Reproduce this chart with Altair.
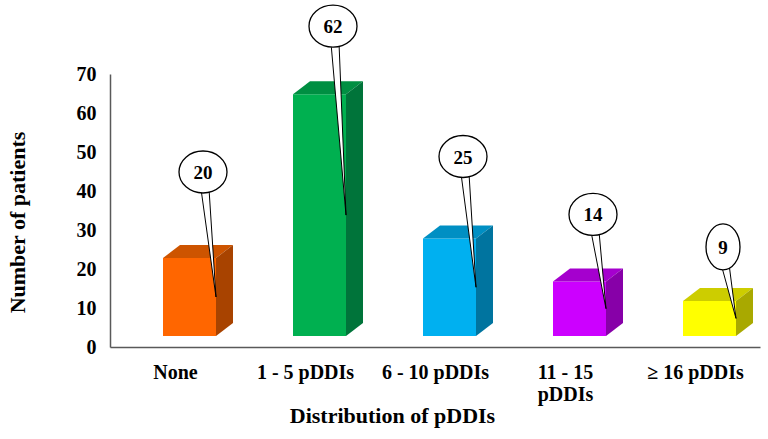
import altair as alt
import pandas as pd

# ---- data -------------------------------------------------------------
categories = ["None", "1 - 5 pDDIs", "6 - 10 pDDIs", "11 - 15 pDDIs", "\u2265 16 pDDIs"]
axis_labels = [["None"], ["1 - 5 pDDIs"], ["6 - 10 pDDIs"], ["11 - 15", "pDDIs"], ["\u2265 16 pDDIs"]]
patients = [20, 62, 25, 14, 9]

# ---- styling ----------------------------------------------------------
front_colors = ["#FF6600", "#00B050", "#00B0F0", "#CC00FF", "#FFFF00"]
top_colors = ["#CD5400", "#008F42", "#008FC3", "#A500CE", "#CDCD00"]
side_colors = ["#A84300", "#00743A", "#00749F", "#8700A8", "#A9A900"]
callout_rise = [86, 68, 82, 67, 54]  # px from bar top up to the bubble centre

FONT = "Liberation Serif"
W, H = 650, 273
Y_MAX = 70
UX = len(categories) / W   # data units per pixel, x
UY = Y_MAX / H             # data units per pixel, y

FACE_W = 53       # front face width (px)
FACE_SHIFT = 14.5 # front face centre, right of the band centre (px)
DEPTH_X = 17      # 3-D depth offset (px)
DEPTH_Y = 13
LIFT = 11         # front face floor above the axis line (px)
BUB_DX = -13      # bubble centre relative to the bar's front-right edge (px)
TAIL_HALF = 4     # half width of the callout tail at the bubble (px)
TAIL_DROP = 17    # tail base below the bubble centre (px)

rows = []
for i, (cat, val, rise) in enumerate(zip(categories, patients, callout_rise)):
    for edge in (0, 1):
        rows.append({"idx": i, "category": cat, "value": val, "rise": rise, "edge": edge})
df = pd.DataFrame(rows)

wide_bubble = "M -0.96 0 A 0.96 0.84 0 1 1 0.96 0 A 0.96 0.84 0 1 1 -0.96 0 Z"
narrow_bubble = "M -0.68 0 A 0.68 0.92 0 1 1 0.68 0 A 0.68 0.92 0 1 1 -0.68 0 Z"

base = (
    alt.Chart(df)
    .transform_calculate(
        x_l=f"datum.idx + {(FACE_SHIFT - FACE_W / 2) * UX}",
        x_r=f"datum.idx + {(FACE_SHIFT + FACE_W / 2) * UX}",
        y_b=f"{LIFT * UY} + datum.edge * {DEPTH_Y * UY}",
        y_t=f"datum.value + {LIFT * UY} + datum.edge * {DEPTH_Y * UY}",
    )
    .transform_calculate(
        x_side="datum.x_r + datum.edge * " + str(DEPTH_X * UX),
        x_top_l="datum.x_l + datum.edge * " + str(DEPTH_X * UX),
        x_top_r="datum.x_r + datum.edge * " + str(DEPTH_X * UX),
        bub_x=f"datum.x_r + {BUB_DX * UX}",
        bub_y=f"datum.value + {LIFT * UY} + datum.rise * {UY}",
        tip_y=f"datum.value / 2 + {LIFT * UY}",
        bub_shape=f"datum.value < 10 ? '{narrow_bubble}' : '{wide_bubble}'",
    )
    .transform_calculate(
        tail_y=f"datum.edge == 0 ? datum.bub_y - {TAIL_DROP * UY} : datum.tip_y",
        tail_l=f"datum.edge == 0 ? datum.bub_x + {(2 - TAIL_HALF) * UX} : datum.x_r",
        tail_r=f"datum.edge == 0 ? datum.bub_x + {(2 + TAIL_HALF) * UX} : datum.x_r",
    )
)

x_scale = alt.Scale(domain=[-0.5, len(categories) - 0.5], nice=False, zero=False)
y_scale = alt.Scale(domain=[0, Y_MAX], nice=False)

label_expr = str(axis_labels).replace('"', "'") + "[datum.value]"

x_axis = alt.Axis(
    values=list(range(len(categories))),
    labelExpr=label_expr,
    title="Distribution of pDDIs",
    ticks=False, tickSize=0, grid=False,
    domainColor="#595959", domainWidth=1.5,
    labelFont=FONT, labelFontSize=20, labelFontWeight="bold", labelColor="black",
    labelBaseline="alphabetic", labelPadding=31, labelLineHeight=22,
    labelFlush=False, labelOverlap=False, labelAlign="center",
    titleFont=FONT, titleFontSize=22, titleFontWeight="bold", titleColor="black",
    titleX=282, titleY=75, titleBaseline="alphabetic", titleAlign="center", titleAnchor="middle",
)
y_axis = alt.Axis(
    values=list(range(0, Y_MAX + 1, 10)),
    title="Number of patients",
    ticks=False, tickSize=0, grid=False,
    domainColor="#595959", domainWidth=1.5,
    labelFont=FONT, labelFontSize=20, labelFontWeight="bold", labelColor="black",
    labelPadding=14,
    titleFont=FONT, titleFontSize=22, titleFontWeight="bold", titleColor="black",
    titleAngle=-90, titleX=-86, titleY=148, titleBaseline="alphabetic", titleAlign="center",
)


def colour(rng):
    return alt.Color("category:N", scale=alt.Scale(domain=categories, range=rng), legend=None)


front = base.transform_filter("datum.edge == 0").mark_rect().encode(
    x=alt.X("x_l:Q", scale=x_scale, axis=x_axis),
    x2="x_r:Q",
    y=alt.Y("y_b:Q", scale=y_scale, axis=y_axis),
    y2="y_t:Q",
    color=colour(front_colors),
)

top = base.mark_area(orient="horizontal").encode(
    y=alt.Y("y_t:Q", scale=y_scale, axis=y_axis),
    x=alt.X("x_top_l:Q", scale=x_scale, axis=x_axis, stack=None),
    x2="x_top_r:Q",
    detail="category:N",
    color=colour(top_colors),
)

side = base.mark_area(orient="vertical").encode(
    x=alt.X("x_side:Q", scale=x_scale, axis=x_axis),
    y=alt.Y("y_b:Q", scale=y_scale, axis=y_axis, stack=None),
    y2="y_t:Q",
    detail="category:N",
    color=colour(side_colors),
)

tail = base.mark_area(orient="horizontal", fill="white", stroke="black", strokeWidth=1).encode(
    y=alt.Y("tail_y:Q", scale=y_scale, axis=y_axis),
    x=alt.X("tail_l:Q", scale=x_scale, axis=x_axis, stack=None),
    x2="tail_r:Q",
    detail="category:N",
)

bubble = base.transform_filter("datum.edge == 0").mark_point(
    filled=True, fill="white", stroke="black", strokeWidth=1.3, opacity=1, size=2500
).encode(
    x=alt.X("bub_x:Q", scale=x_scale, axis=x_axis),
    y=alt.Y("bub_y:Q", scale=y_scale, axis=y_axis),
    shape=alt.Shape("bub_shape:N", scale=None),
)

bubble_text = base.transform_filter("datum.edge == 0").mark_text(
    font=FONT, fontSize=19, fontWeight="bold", color="black", baseline="middle", align="center", dy=1
).encode(
    x=alt.X("bub_x:Q", scale=x_scale, axis=x_axis),
    y=alt.Y("bub_y:Q", scale=y_scale, axis=y_axis),
    text="value:Q",
)

chart = (
    alt.layer(front, top, side, tail, bubble, bubble_text)
    .resolve_scale(color="independent")
    .properties(
        width=W, height=H,
        autosize=alt.AutoSizeParams(type="none"),
        padding={"left": 110, "top": 74, "right": 8, "bottom": 92},
        background="white",
    )
    .configure_view(stroke=None)
)

chart.save("out.html", embed_options={"renderer": "svg", "actions": False})
